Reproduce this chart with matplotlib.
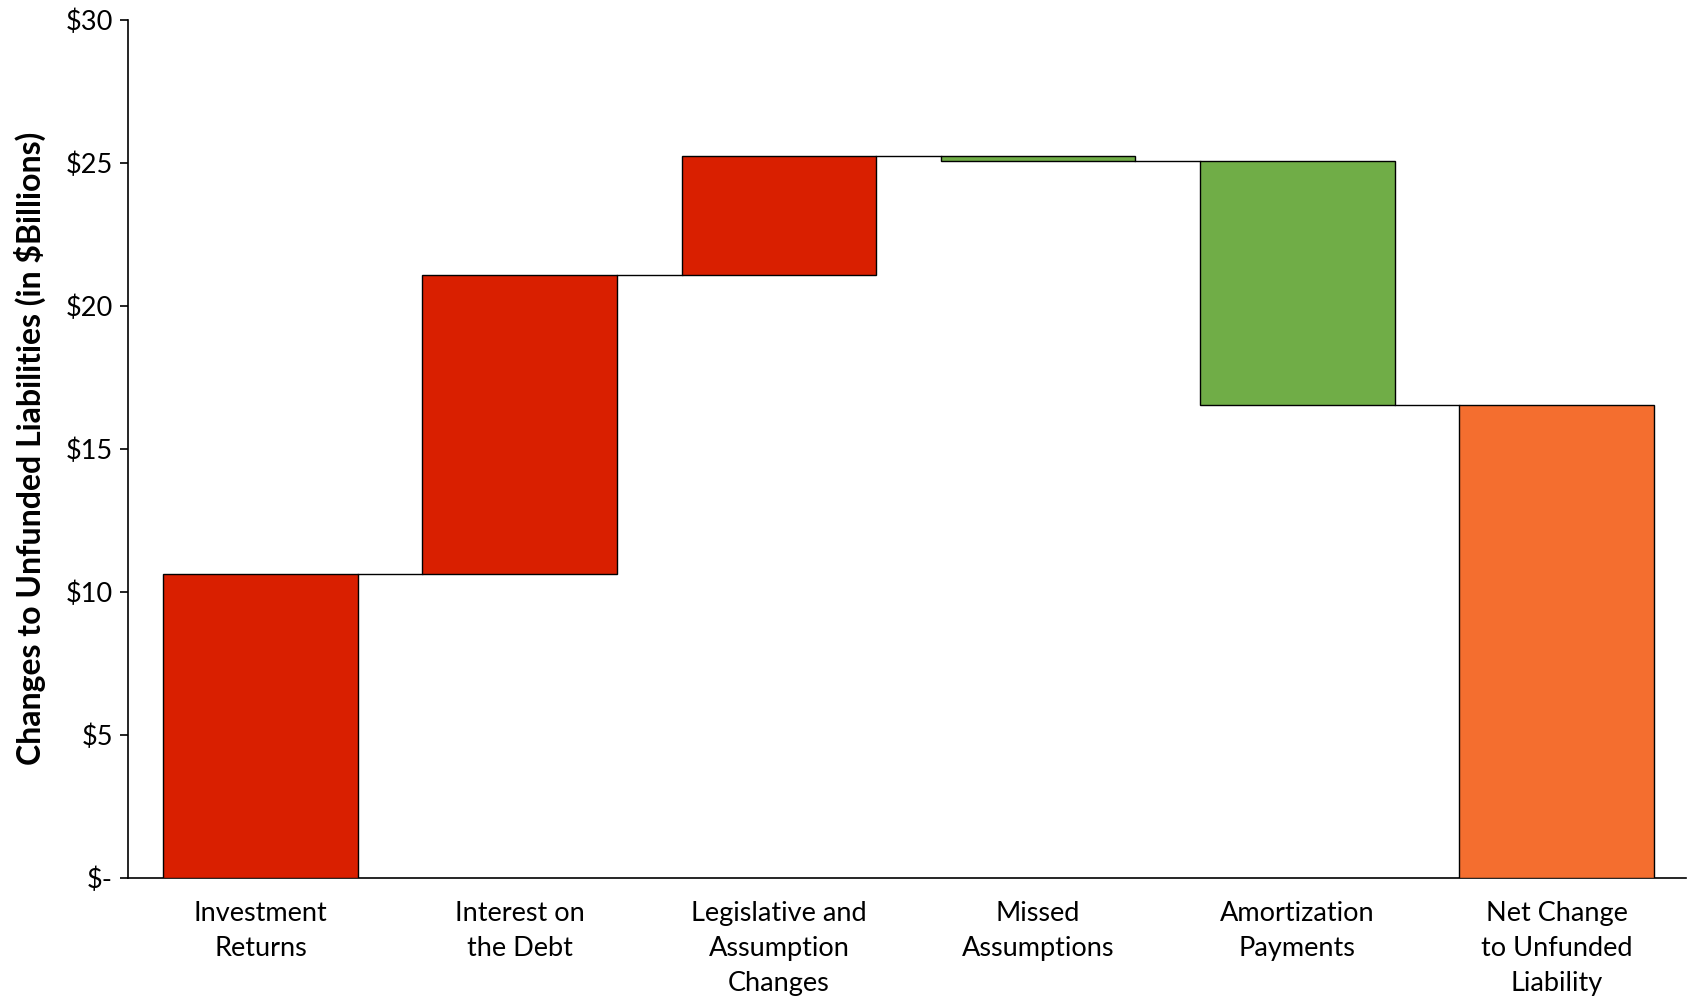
import numpy as np
import matplotlib
matplotlib.use("Agg")
import matplotlib.pyplot as plt

plt.rcParams['font.family'] = ['Lato', 'DejaVu Sans']

categories = ["Investment\nReturns", "Interest on\nthe Debt", "Legislative and\nAssumption\nChanges",
              "Missed\nAssumptions", "Amortization\nPayments", "Net Change\nto Unfunded\nLiability"]
changes = [10.61, 10.47, 4.14, -0.15, -8.55]   # $ billions
net_change = 16.52
colors = ["#D91F00", "#D91F00", "#D91F00", "#70AD47", "#70AD47", "#F46E2F"]
ytick_vals = [0, 5, 10, 15, 20, 25, 30]
ytick_labels = ["$-", "$5", "$10", "$15", "$20", "$25", "$30"]

# waterfall geometry from the running total
levels = np.concatenate([[0], np.cumsum(changes)])
bottoms = list(np.minimum(levels[:-1], levels[1:])) + [0]
heights = list(np.abs(changes)) + [net_change]

fig = plt.figure(figsize=(16.87, 10.01), dpi=100)
ax = fig.add_axes([0.076, 0.123, 0.9235, 0.8575])
x = np.arange(len(categories))
w = 0.75
ax.bar(x, heights, bottom=bottoms, width=w, color=colors, edgecolor="black", linewidth=1.0, zorder=3)

# connector lines between bars
for i in range(len(categories) - 1):
    ax.plot([x[i] + w / 2, x[i + 1] - w / 2], [levels[i + 1], levels[i + 1]],
            color="black", lw=1.0, zorder=2)

ax.set_xlim(-0.51, 5.5)
ax.set_ylim(0, 30)
ax.set_yticks(ytick_vals)
ax.set_yticklabels(ytick_labels, fontsize=19.5)
ax.set_xticks(x)
ax.set_xticklabels(categories, fontsize=19.5, linespacing=1.5)
ax.tick_params(axis="x", length=0, pad=17)
ax.tick_params(axis="y", length=6, width=1.2, pad=5, direction="out")
ax.spines["top"].set_visible(False)
ax.spines["right"].set_visible(False)
ax.spines["left"].set_linewidth(1.2)
ax.spines["bottom"].set_linewidth(1.2)
ax.set_ylabel("Changes to Unfunded Liabilities (in $Billions)", fontsize=23,
              fontweight="bold", labelpad=14)

fig.savefig("out.png", dpi=100)
